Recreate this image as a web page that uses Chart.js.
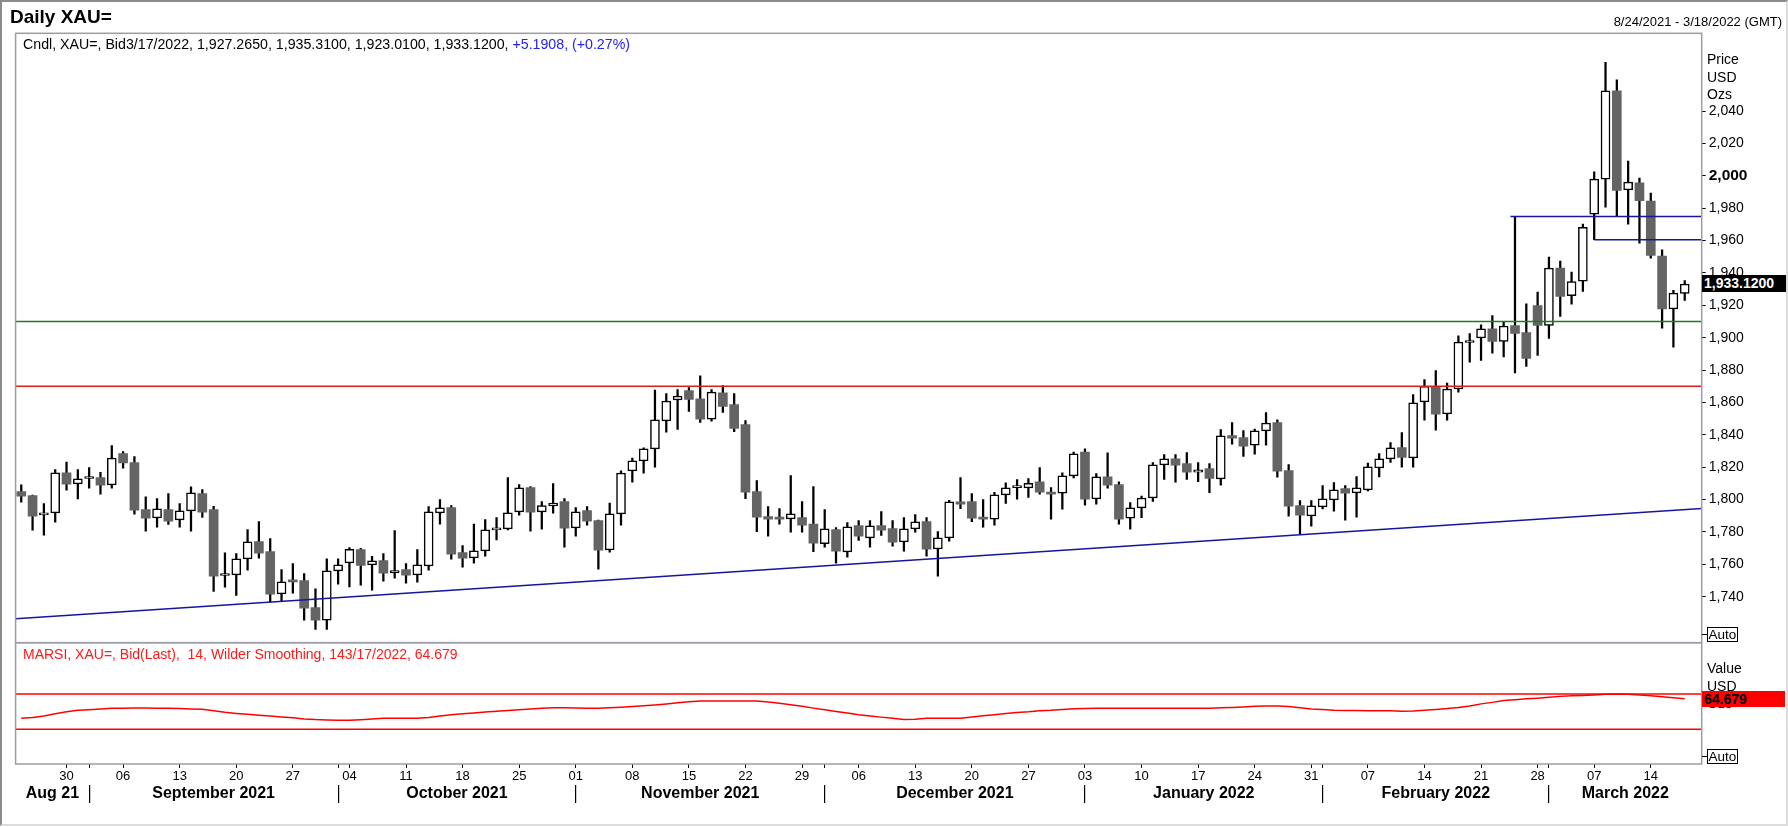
<!DOCTYPE html>
<html>
<head>
<meta charset="utf-8">
<script src="https://cdn.jsdelivr.net/npm/chart.js@4.4.1/dist/chart.umd.min.js"></script>
<style>
  body { margin: 0; background: #fff; font-family: "Liberation Sans", Arial, sans-serif; }
  #wrap { position: relative; width: 1788px; height: 827px; overflow: hidden; background: #fff; }
  #wrap canvas { position: absolute; left: 0; top: 0; }
  .t { position: absolute; white-space: pre; color: #000; }
  #frame { position: absolute; left: 0; top: 0; width: 1788px; height: 826px; box-sizing: border-box;
    border-left: 2px solid #8c8c8c; border-top: 2px solid #8c8c8c; border-right: 2px solid #dcdcdc; border-bottom: 2px solid #dcdcdc; pointer-events: none; }
  .unit { font-size: 14px; line-height: 17.7px; }
  .box { position: absolute; font-weight: bold; font-size: 14px; line-height: 17px; padding-left: 2px; box-sizing: border-box; white-space: nowrap; }
  .auto { position: absolute; border: 1px solid #000; font-size: 13.5px; line-height: 13px; width: 31px; height: 15px; box-sizing: border-box; text-align: center; background: #fff; }
  .dash { position: absolute; width: 5px; border-top: 1px solid #000; }
</style>
</head>
<body>
<div id="wrap">
  <canvas id="chart" width="1788" height="827"></canvas>
  <div class="t" style="left:10px;top:7px;font-weight:bold;font-size:19px;line-height:19px;">Daily XAU=</div>
  <div class="t" style="right:6px;top:15px;font-size:13px;line-height:13px;">8/24/2021 - 3/18/2022 (GMT)</div>
  <div class="t" style="left:23px;top:37px;font-size:14.2px;line-height:14px;">Cndl, XAU=, Bid3/17/2022, 1,927.2650, 1,935.3100, 1,923.0100, 1,933.1200, <span style="color:#2323ff">+5.1908, (+0.27%)</span></div>
  <div class="t" style="left:23px;top:647px;font-size:14px;line-height:14px;color:#ff1a1a;">MARSI, XAU=, Bid(Last),  14, Wilder Smoothing, 143/17/2022, 64.679</div>
  <div class="t unit" style="left:1707px;top:51px;">Price
USD
Ozs</div>
  <div class="t unit" style="left:1707px;top:660px;">Value
USD
Ozs</div>
  <div id="lastPrice" class="box" style="left:1702px;top:275px;width:85px;height:17px;background:#000;color:#fff;">1,933.1200</div>
  <div id="lastRsi" class="box" style="left:1702px;top:691px;width:83px;height:16px;line-height:16px;background:#ff0000;color:#000;">64.679</div>
  <div class="dash" style="left:1702px;top:634px;"></div>
  <div class="auto" style="left:1707px;top:627px;">Auto</div>
  <div class="dash" style="left:1702px;top:756px;"></div>
  <div class="auto" style="left:1707px;top:749px;">Auto</div>
  <div id="frame"></div>
</div>
<script>
// trading days shown (one extra empty slot follows for 3/18)
const dates = [
  "2021-08-24","2021-08-25","2021-08-26","2021-08-27","2021-08-30","2021-08-31",
  "2021-09-01","2021-09-02","2021-09-03","2021-09-06","2021-09-07","2021-09-08","2021-09-09","2021-09-10",
  "2021-09-13","2021-09-14","2021-09-15","2021-09-16","2021-09-17","2021-09-20","2021-09-21","2021-09-22",
  "2021-09-23","2021-09-24","2021-09-27","2021-09-28","2021-09-29","2021-09-30",
  "2021-10-01","2021-10-04","2021-10-05","2021-10-06","2021-10-07","2021-10-08","2021-10-11","2021-10-12",
  "2021-10-13","2021-10-14","2021-10-15","2021-10-18","2021-10-19","2021-10-20","2021-10-21","2021-10-22",
  "2021-10-25","2021-10-26","2021-10-27","2021-10-28","2021-10-29",
  "2021-11-01","2021-11-02","2021-11-03","2021-11-04","2021-11-05","2021-11-08","2021-11-09","2021-11-10",
  "2021-11-11","2021-11-12","2021-11-15","2021-11-16","2021-11-17","2021-11-18","2021-11-19","2021-11-22",
  "2021-11-23","2021-11-24","2021-11-25","2021-11-26","2021-11-29","2021-11-30",
  "2021-12-01","2021-12-02","2021-12-03","2021-12-06","2021-12-07","2021-12-08","2021-12-09","2021-12-10",
  "2021-12-13","2021-12-14","2021-12-15","2021-12-16","2021-12-17","2021-12-20","2021-12-21","2021-12-22",
  "2021-12-23","2021-12-24","2021-12-27","2021-12-28","2021-12-29","2021-12-30","2021-12-31",
  "2022-01-03","2022-01-04","2022-01-05","2022-01-06","2022-01-07","2022-01-10","2022-01-11","2022-01-12",
  "2022-01-13","2022-01-14","2022-01-17","2022-01-18","2022-01-19","2022-01-20","2022-01-21","2022-01-24",
  "2022-01-25","2022-01-26","2022-01-27","2022-01-28","2022-01-31",
  "2022-02-01","2022-02-02","2022-02-03","2022-02-04","2022-02-07","2022-02-08","2022-02-09","2022-02-10",
  "2022-02-11","2022-02-14","2022-02-15","2022-02-16","2022-02-17","2022-02-18","2022-02-21","2022-02-22",
  "2022-02-23","2022-02-24","2022-02-25","2022-02-28",
  "2022-03-01","2022-03-02","2022-03-03","2022-03-04","2022-03-07","2022-03-08","2022-03-09","2022-03-10",
  "2022-03-11","2022-03-14","2022-03-15","2022-03-16","2022-03-17"
];

const open = [
  1805.0,1802.5,1790.6,1791.8,1816.5,1809.7,
  1813.0,1813.6,1809.1,1828.4,1822.9,1793.8,1788.7,1793.8,1787.5,1793.0,1803.7,1793.8,1753.1,1753.5,1763.4,1774.1,1767.9,1741.8,1750.4,1750.0,1733.3,1725.5,
  1756.0,1760.9,1769.1,1759.7,1762.3,1754.7,1756.8,1753.5,1759.0,1791.8,1795.1,1767.3,1764.0,1768.3,1781.3,1781.9,1792.4,1807.4,1792.4,1796.1,1798.8,
  1782.5,1793.2,1787.0,1768.9,1791.2,1817.7,1823.9,1831.3,1848.6,1861.5,1867.3,1862.3,1849.6,1866.0,1858.6,1846.3,1804.9,1789.5,1788.9,1788.1,1788.9,1784.8,
  1772.8,1781.5,1767.7,1784.0,1776.3,1784.0,1782.1,1773.9,1781.9,1786.4,1769.5,1776.3,1798.6,1798.8,1788.9,1787.9,1802.9,1807.4,1807.2,1810.9,1804.7,1803.9,1814.6,
  1829.4,1800.4,1814.0,1809.3,1788.5,1794.9,1801.0,1821.4,1825.1,1822.2,1816.9,1819.1,1812.8,1839.5,1838.3,1833.6,1842.4,1847.5,1817.9,1796.3,1789.9,
  1795.5,1799.8,1806.8,1804.1,1806.0,1819.5,1825.1,1832.1,1825.7,1860.3,1870.0,1852.9,1868.3,1897.0,1899.8,1905.4,1897.7,1907.4,1903.1,1919.8,
  1907.6,1943.0,1925.9,1934.9,1976.3,1997.9,2052.4,1991.3,1995.6,1984.3,1950.4,1917.7,1927.27
];
const high = [
  1809.1,1802.8,1797.5,1818.5,1823.1,1818.5,
  1819.8,1816.9,1833.4,1829.6,1826.6,1801.7,1800.6,1803.7,1797.5,1807.8,1806.2,1795.9,1767.1,1766.7,1781.5,1786.4,1775.9,1756.8,1760.5,1754.3,1744.9,1763.4,
  1763.4,1770.4,1769.9,1765.0,1766.7,1780.9,1760.5,1769.1,1795.7,1800.0,1796.3,1771.6,1784.8,1787.7,1788.9,1813.6,1809.3,1808.0,1798.8,1809.9,1800.6,
  1795.1,1795.7,1787.4,1797.9,1817.7,1825.7,1831.9,1867.7,1865.4,1867.9,1869.1,1876.5,1867.9,1870.4,1865.4,1848.8,1811.7,1795.7,1794.4,1814.8,1798.8,1808.0,
  1793.8,1782.7,1785.8,1787.0,1787.0,1792.6,1787.0,1788.9,1790.7,1788.9,1780.2,1799.5,1813.6,1803.7,1800.0,1804.5,1810.3,1812.3,1812.9,1819.8,1807.4,1816.5,1829.4,
  1831.3,1816.1,1828.8,1810.9,1798.1,1802.1,1822.8,1827.8,1827.8,1829.0,1822.8,1822.2,1843.2,1847.5,1842.6,1843.6,1853.7,1849.2,1821.6,1799.4,1799.4,
  1808.6,1810.5,1808.6,1814.2,1822.6,1828.4,1835.2,1841.4,1864.8,1874.1,1879.6,1872.0,1901.2,1902.5,1908.0,1913.6,1909.9,1974.9,1920.9,1928.2,
  1949.8,1947.3,1940.5,1970.1,2002.4,2070.1,2059.2,2009.0,1998.5,1989.3,1954.3,1929.2,1935.31
];
const low = [
  1798.4,1781.1,1778.0,1786.0,1805.8,1800.4,
  1807.0,1803.3,1807.0,1819.4,1791.0,1780.5,1782.9,1784.6,1782.9,1780.5,1789.0,1743.2,1745.9,1740.8,1756.4,1763.8,1736.6,1737.1,1742.2,1725.5,1719.8,1719.8,
  1747.8,1746.1,1747.1,1744.0,1749.6,1751.4,1748.4,1749.0,1756.4,1784.8,1763.2,1758.2,1760.7,1765.0,1775.1,1781.3,1790.3,1780.5,1781.7,1791.6,1770.6,
  1777.4,1784.2,1757.0,1767.5,1784.2,1810.7,1816.3,1820.0,1841.6,1843.4,1854.5,1847.7,1848.4,1853.9,1842.0,1800.6,1780.2,1777.4,1784.8,1779.8,1779.8,1767.9,
  1770.6,1760.7,1764.4,1774.7,1770.6,1777.8,1771.2,1768.1,1779.8,1765.0,1752.7,1774.3,1794.4,1786.4,1782.9,1784.2,1797.7,1800.2,1801.4,1803.3,1787.9,1794.0,1813.4,
  1796.5,1797.1,1807.0,1784.8,1781.7,1788.9,1798.8,1812.4,1810.7,1812.4,1811.1,1804.3,1808.9,1834.2,1826.7,1828.0,1833.6,1813.8,1789.7,1778.8,1783.5,
  1794.2,1792.8,1787.3,1789.1,1805.4,1814.0,1823.0,1820.0,1820.0,1849.0,1842.8,1849.0,1866.3,1884.8,1886.0,1890.5,1888.1,1878.2,1882.3,1889.1,
  1899.6,1913.1,1920.7,1928.6,1960.5,1980.6,1975.3,1970.1,1958.4,1949.1,1905.9,1894.2,1923.01
];
const close = [
  1802.1,1789.7,1791.8,1816.5,1809.5,1812.8,
  1813.4,1808.9,1825.7,1822.7,1793.4,1788.5,1794.3,1786.6,1793.0,1804.1,1792.2,1752.7,1753.5,1763.4,1773.9,1766.9,1741.6,1749.2,1749.2,1732.9,1725.5,1756.0,
  1759.7,1769.2,1759.4,1762.1,1754.5,1756.2,1753.3,1759.7,1792.4,1794.9,1766.3,1763.8,1768.3,1781.3,1782.5,1791.8,1807.2,1792.2,1796.3,1797.9,1782.3,
  1792.4,1786.6,1768.7,1791.2,1816.4,1823.9,1831.3,1849.2,1860.9,1864.0,1861.9,1849.6,1866.4,1857.6,1844.0,1804.5,1789.1,1787.9,1787.9,1791.2,1784.2,1773.0,
  1781.9,1768.1,1783.1,1777.4,1783.8,1781.1,1773.7,1781.9,1786.2,1769.3,1776.3,1798.6,1797.1,1788.5,1787.9,1802.9,1807.2,1807.8,1810.1,1804.5,1803.3,1814.6,1828.2,
  1800.2,1814.0,1808.9,1787.9,1794.9,1801.0,1821.4,1825.1,1821.2,1816.9,1818.3,1813.0,1839.3,1837.9,1833.0,1842.4,1847.3,1817.5,1795.9,1790.3,1796.1,
  1800.4,1806.0,1803.9,1807.2,1820.2,1825.1,1831.9,1826.1,1859.7,1870.0,1852.7,1868.3,1897.3,1897.6,1905.4,1897.7,1907.2,1902.7,1887.2,1907.6,
  1943.0,1925.5,1934.7,1968.1,1997.9,2052.4,1990.9,1996.1,1984.7,1950.8,1917.7,1927.5,1933.12
];
const rsi = [
  42.4,43.5,45.0,47.5,50.0,51.5,52.2,53.0,53.8,53.9,
  54.0,54.0,53.9,53.8,53.5,53.0,52.6,51.0,49.2,48.0,
  47.0,46.0,45.1,44.0,43.0,41.8,41.0,40.6,40.3,40.2,
  40.8,41.6,42.4,42.4,42.4,42.4,43.5,45.0,46.5,47.5,
  48.6,49.5,50.4,51.3,52.2,53.0,53.8,54.5,54.5,54.2,
  53.9,53.8,54.4,55.1,55.8,56.6,57.6,58.8,60.0,61.2,
  62.1,62.1,62.2,62.2,62.2,62.1,61.0,59.5,57.8,56.0,
  54.0,52.2,50.3,48.4,46.6,45.2,43.8,42.4,41.2,41.5,
  42.4,42.4,42.4,42.6,44.0,45.3,46.5,47.8,49.0,49.8,
  51.0,51.6,52.5,53.2,53.7,53.8,53.8,53.8,53.8,53.8,
  53.8,53.8,53.8,53.8,53.8,53.8,54.3,54.8,55.4,56.0,
  56.4,56.3,55.8,54.5,53.0,52.4,51.6,51.3,51.2,51.1,
  51.1,51.0,50.5,50.8,51.6,52.5,53.5,54.8,56.5,58.8,
  60.5,62.5,63.6,64.5,65.3,66.3,67.3,67.9,68.4,68.9,
  69.6,70.0,69.6,68.9,67.9,66.8,65.8,64.679
];

const priceTicks = [1740,1760,1780,1800,1820,1840,1860,1880,1900,1920,1940,1960,1980,2000,2020,2040];
const monthLabels = ["Aug 21","September 2021","October 2021","November 2021","December 2021","January 2022","February 2022","March 2022"];

// drawn reference lines (price / rsi units)
const supportLevel = 1910;
const resistanceLevel = 1870;
const trendStart = 1726.4, trendEnd = 1794.5;
const spikeHigh = 1974.9, spikeStartIdx = 131.6;
const gapLow = 1960.5, gapStartIdx = 139;
const rsiUpper = 70, rsiLower = 30;

const n = dates.length;
const xMin = -0.5, xMax = n + 0.5;

// week ticks (Mondays) plus small marks at month starts
const weekTicks = [];
const monthStarts = [];
dates.forEach((d, i) => {
  const monday = new Date(d + "T00:00:00Z").getUTCDay() === 1;
  const first = i > 0 && d.slice(5, 7) !== dates[i - 1].slice(5, 7);
  if (first) monthStarts.push(i);
  if (monday || first) weekTicks.push({ value: i, label: monday ? d.slice(8) : "" });
});
const bounds = [xMin, ...monthStarts, xMax];
const monthTicks = [];
monthLabels.forEach((m, k) => {
  if (k > 0) monthTicks.push({ value: monthStarts[k - 1], label: "", sep: true });
  monthTicks.push({ value: (bounds[k] + bounds[k + 1]) / 2, label: m, sep: false });
});

const isUp = i => close[i] >= open[i];
const hline = (x0, x1, y) => [{ x: x0, y: y }, { x: x1, y: y }];

const panelFrame = {
  id: "panelFrame",
  afterDraw(chart) {
    const { ctx, chartArea } = chart;
    const yp = chart.scales.y, yr = chart.scales.yr;
    ctx.save();
    ctx.strokeStyle = "#9c9ca8";
    ctx.lineWidth = 1.5;
    ctx.strokeRect(chartArea.left, yp.top, chartArea.right - chartArea.left, yp.bottom - yp.top);
    ctx.strokeRect(chartArea.left, yr.top, chartArea.right - chartArea.left, yr.bottom - yr.top);
    ctx.restore();
    document.getElementById("lastPrice").style.top = (yp.getPixelForValue(close[n - 1]) - 9) + "px";
    document.getElementById("lastRsi").style.top = (yr.getPixelForValue(rsi[n - 1]) - 8) + "px";
  }
};

Chart.defaults.font.family = "'Liberation Sans', Arial, sans-serif";
Chart.defaults.color = "#000";

const config = {
  type: "bar",
  data: {
    datasets: [
      // overlay lines
      { type: "line", data: hline(xMin, xMax, supportLevel), borderColor: "#1e7b1e", borderWidth: 1.5, pointRadius: 0, yAxisID: "y", order: 0 },
      { type: "line", data: hline(xMin, xMax, resistanceLevel), borderColor: "#dd1c1c", borderWidth: 1.5, pointRadius: 0, yAxisID: "y", order: 0 },
      { type: "line", data: [{ x: xMin, y: trendStart }, { x: xMax, y: trendEnd }], borderColor: "#16169c", borderWidth: 1.5, pointRadius: 0, yAxisID: "y", order: 0 },
      { type: "line", data: hline(spikeStartIdx, xMax, spikeHigh), borderColor: "#16169c", borderWidth: 1.5, pointRadius: 0, yAxisID: "y", order: 0 },
      { type: "line", data: hline(gapStartIdx, xMax, gapLow), borderColor: "#16169c", borderWidth: 1.5, pointRadius: 0, yAxisID: "y", order: 0 },
      // rsi panel
      { type: "line", data: hline(xMin, xMax, rsiUpper), borderColor: "#ff0000", borderWidth: 1.5, pointRadius: 0, yAxisID: "yr", order: 0 },
      { type: "line", data: hline(xMin, xMax, rsiLower), borderColor: "#ff0000", borderWidth: 1.5, pointRadius: 0, yAxisID: "yr", order: 0 },
      { type: "line", data: rsi.map((v, i) => ({ x: i, y: v })), borderColor: "#ff0000", borderWidth: 1.5, pointRadius: 0, yAxisID: "yr", order: 0 },
      // candle bodies
      {
        type: "bar",
        data: dates.map((d, i) => ({ x: i, y: [open[i], close[i]] })),
        backgroundColor: c => isUp(c.dataIndex) ? "#ffffff" : "#646464",
        borderColor: c => isUp(c.dataIndex) ? "#000000" : "#646464",
        borderWidth: c => isUp(c.dataIndex) ? 1.5 : 0,
        borderSkipped: false,
        grouped: false,
        barPercentage: 1,
        categoryPercentage: 1,
        maxBarThickness: 9,
        minBarLength: 2,
        yAxisID: "y",
        order: 1
      },
      // wicks
      {
        type: "bar",
        data: dates.map((d, i) => ({ x: i, y: [low[i], high[i]] })),
        backgroundColor: "#000000",
        borderWidth: 0,
        grouped: false,
        barPercentage: 1,
        categoryPercentage: 1,
        maxBarThickness: 1.6,
        yAxisID: "y",
        order: 2
      }
    ]
  },
  options: {
    responsive: false,
    maintainAspectRatio: false,
    animation: false,
    events: [],
    layout: { autoPadding: false, padding: { left: 15.6, top: 33.3, right: 0, bottom: 0 } },
    plugins: { legend: { display: false }, tooltip: { enabled: false } },
    scales: {
      x: {
        type: "linear",
        position: "bottom",
        offset: false,
        min: xMin,
        max: xMax,
        afterBuildTicks: s => { s.ticks = weekTicks.map(t => ({ value: t.value })); },
        afterFit: s => { s.height = 21; s.paddingLeft = 0; s.paddingRight = 0; },
        ticks: {
          autoSkip: false,
          maxRotation: 0,
          padding: 1,
          font: { size: 13 },
          callback: (v, i) => weekTicks[i] ? weekTicks[i].label : ""
        },
        grid: { offset: false, drawOnChartArea: false, tickLength: 4, color: "#000", lineWidth: 1 },
        border: { display: false }
      },
      xm: {
        type: "linear",
        position: "bottom",
        offset: false,
        min: xMin,
        max: xMax,
        afterBuildTicks: s => { s.ticks = monthTicks.map(t => ({ value: t.value, sep: t.sep })); },
        afterFit: s => { s.height = 42; s.paddingLeft = 0; s.paddingRight = 0; },
        ticks: {
          autoSkip: false,
          maxRotation: 0,
          padding: -19.5,
          font: { size: 16, weight: "bold" },
          callback: (v, i) => monthTicks[i] ? monthTicks[i].label : ""
        },
        grid: {
          offset: false,
          drawOnChartArea: false,
          tickLength: 18,
          lineWidth: 1.2,
          color: c => (c.tick && c.tick.sep) ? "#000" : "rgba(0,0,0,0)"
        },
        border: { display: false }
      },
      y: {
        type: "linear",
        position: "right",
        stack: "panels",
        stackWeight: 609.4,
        min: 1711.6,
        max: 2088.0,
        afterBuildTicks: s => { s.ticks = priceTicks.map(v => ({ value: v })); },
        afterFit: s => { s.width = 86.3; s.paddingTop = 0; s.paddingBottom = 0; },
        ticks: {
          padding: 3,
          font: c => (c.tick && c.tick.value === 2000) ? { size: 15.5, weight: "bold" } : { size: 14 },
          callback: v => v.toLocaleString("en-US")
        },
        grid: { drawOnChartArea: false, tickLength: 4, color: "#000", lineWidth: 1 },
        border: { display: false }
      },
      yr: {
        type: "linear",
        position: "right",
        stack: "panels",
        stackWeight: 121.3,
        min: -9.3,
        max: 128.1,
        afterFit: s => { s.width = 86.3; s.paddingTop = 0; s.paddingBottom = 0; },
        ticks: { display: false },
        grid: { display: false },
        border: { display: false }
      }
    }
  },
  plugins: [panelFrame]
};

new Chart(document.getElementById("chart").getContext("2d"), config);
</script>
</body>
</html>
